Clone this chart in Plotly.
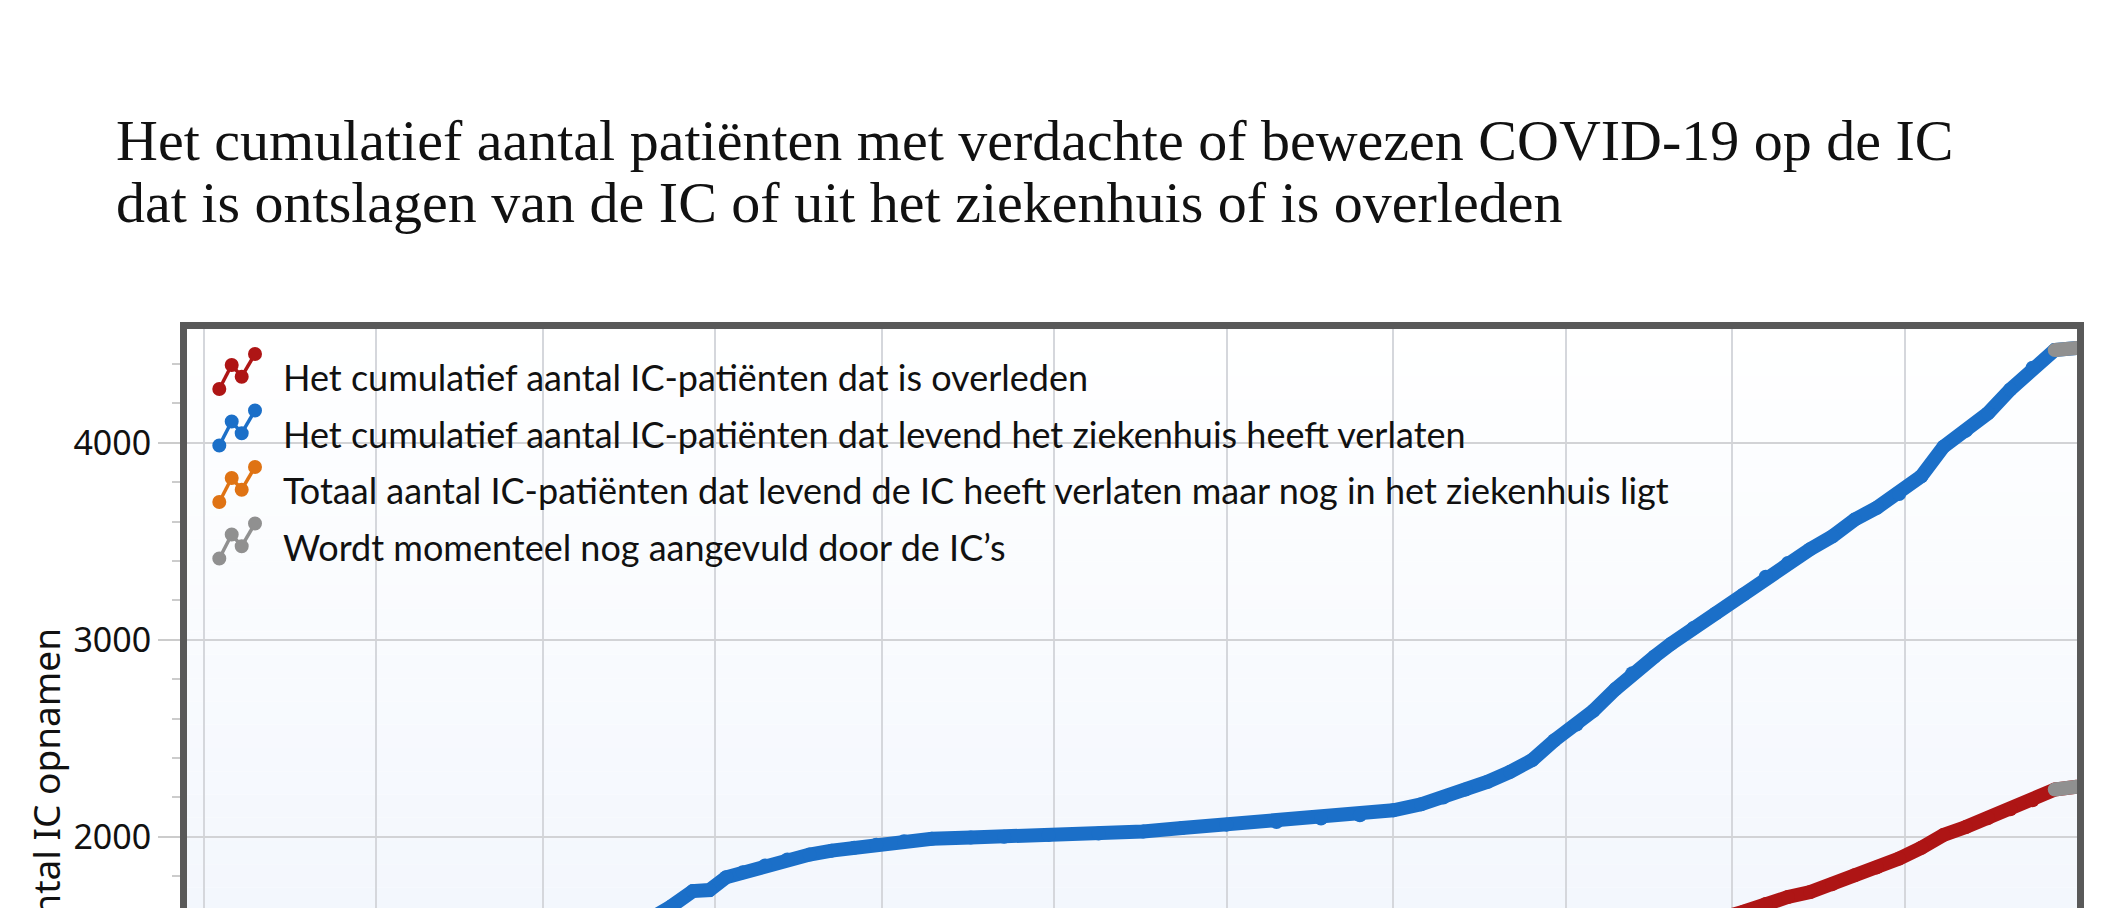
import plotly.graph_objects as go

# ---------------- data ----------------
dates = [
    "2020-02-27", "2020-03-05", "2020-03-12", "2020-03-19", "2020-03-26",
    "2020-04-02", "2020-04-09", "2020-04-16", "2020-04-23", "2020-04-30",
    "2020-05-07", "2020-05-14", "2020-05-21", "2020-05-24", "2020-05-28",
    "2020-05-31", "2020-06-03", "2020-06-06", "2020-06-10", "2020-06-14",
    "2020-06-18", "2020-06-22", "2020-06-26", "2020-06-30", "2020-07-05",
    "2020-07-10", "2020-07-17", "2020-07-23", "2020-07-31", "2020-08-09",
    "2020-08-17", "2020-08-24", "2020-09-01", "2020-09-10", "2020-09-18",
    "2020-09-25", "2020-10-01", "2020-10-06", "2020-10-10", "2020-10-14",
    "2020-10-18", "2020-10-22", "2020-10-26", "2020-10-30", "2020-11-03",
    "2020-11-06", "2020-11-10", "2020-11-13", "2020-11-17", "2020-11-20",
    "2020-11-24", "2020-11-28", "2020-12-03", "2020-12-07", "2020-12-11",
    "2020-12-15", "2020-12-19", "2020-12-23", "2020-12-27", "2020-12-31",
    "2021-01-04", "2021-01-08", "2021-01-12", "2021-01-16", "2021-01-20",
    "2021-01-24", "2021-01-28", "2021-02-01",
]

overleden = [
    0, 0, 3, 30, 120,
    290, 460, 600, 700, 770,
    820, 850, 870, 875, 880,
    882, 885, 887, 890, 892,
    894, 896, 898, 900, 902,
    903, 904, 905, 906, 907,
    908, 909, 910, 912, 914,
    916, 920, 930, 950, 975,
    1010, 1060, 1110, 1170, 1230,
    1290, 1350, 1400, 1450, 1490,
    1540, 1580, 1620, 1660, 1695,
    1720, 1760, 1805, 1845, 1890,
    1945, 2010, 2050, 2095, 2140,
    2186, 2240, 2254,
]

levend_ziekenhuis_verlaten = [
    0, 0, 2, 15, 80,
    230, 450, 700, 950, 1170,
    1350, 1480, 1590, 1645, 1725,
    1730, 1795, 1820, 1855, 1885,
    1910, 1930, 1945, 1960, 1978,
    1990, 1997, 2000, 2010, 2017,
    2027, 2045, 2062, 2075, 2093,
    2110, 2135, 2165, 2200, 2240,
    2280, 2330, 2390, 2490, 2570,
    2640, 2750, 2830, 2915, 2980,
    3060, 3134, 3230, 3320, 3390,
    3460, 3525, 3610, 3670, 3740,
    3830, 3980, 4060, 4150, 4270,
    4380, 4470, 4481,
]

nog_in_ziekenhuis = [
    0, 0, 1, 10, 60,
    150, 250, 300, 290, 250,
    200, 150, 110, 100, 90,
    85, 75, 65, 55, 45,
    40, 35, 30, 26, 22,
    20, 18, 15, 13, 12,
    10, 10, 11, 12, 14,
    18, 25, 35, 50, 70,
    95, 120, 150, 190, 230,
    260, 280, 290, 300, 295,
    285, 270, 255, 240, 225,
    215, 205, 210, 220, 230,
    240, 250, 245, 235, 225,
    215, 205, 200,
]

aantal_aanvulling = 2  # last points that are still being filled in

legend_labels = [
    "Het cumulatief aantal IC-patiënten dat is overleden",
    "Het cumulatief aantal IC-patiënten dat levend het ziekenhuis heeft verlaten",
    "Totaal aantal IC-patiënten dat levend de IC heeft verlaten maar nog in het ziekenhuis ligt",
    "Wordt momenteel nog aangevuld door de IC’s",
]

month_ticks = [
    "2020-03-01", "2020-04-01", "2020-05-01", "2020-06-01", "2020-07-01",
    "2020-08-01", "2020-09-01", "2020-10-01", "2020-11-01", "2020-12-01",
    "2021-01-01", "2021-02-01",
]
month_labels = [
    "mrt 2020", "apr", "mei", "jun", "jul", "aug", "sep", "okt", "nov", "dec",
    "jan 2021", "feb",
]

title_lines = [
    "Het cumulatief aantal patiënten met verdachte of bewezen COVID-19 op de IC",
    "dat is ontslagen van de IC of uit het ziekenhuis of is overleden",
]

# ---------------- style ----------------
RED = "#ae1515"
BLUE = "#1b6fc8"
ORANGE = "#df7314"
GRAY = "#909090"
colors = [RED, BLUE, ORANGE, GRAY]

OFF = 8
FIG_W = 2124 - 2 * OFF
FIG_H = 1380
M_L = 187 - OFF
M_R = FIG_W - (2077 - OFF)
M_T = 329 - OFF
PLOT_H = 931
M_B = FIG_H - M_T - PLOT_H
Y_RANGE = [-147, 4577]
X_RANGE = ["2020-02-27", "2021-02-01"]
LW = 14

fig = go.Figure()

for vals, color, name in [
    (nog_in_ziekenhuis, ORANGE, legend_labels[2]),
    (overleden, RED, legend_labels[0]),
    (levend_ziekenhuis_verlaten, BLUE, legend_labels[1]),
]:
    fig.add_trace(go.Scatter(
        x=dates, y=vals, mode="lines+markers", name=name,
        line=dict(color=color, width=LW),
        marker=dict(size=LW, color=color),
        showlegend=False, hoverinfo="x+y",
    ))

for vals in [nog_in_ziekenhuis, overleden, levend_ziekenhuis_verlaten]:
    fig.add_trace(go.Scatter(
        x=dates[-aantal_aanvulling:], y=vals[-aantal_aanvulling:],
        mode="lines+markers", name=legend_labels[3],
        line=dict(color=GRAY, width=LW),
        marker=dict(size=LW, color=GRAY),
        showlegend=False, hoverinfo="x+y",
    ))

shapes = []
# background gradient (white at top to light blue at bottom)
N = 40
top_c = (255, 255, 255)
bot_c = (236, 242, 252)
for k in range(N):
    t = (k + 0.5) / N  # 0 at bottom
    c = tuple(round(bot_c[j] + (top_c[j] - bot_c[j]) * t) for j in range(3))
    shapes.append(dict(
        type="rect", xref="x domain", yref="y domain",
        x0=0, x1=1, y0=k / N, y1=(k + 1) / N,
        fillcolor="rgb(%d,%d,%d)" % c, line=dict(width=0), layer="below",
    ))

# custom legend icons
ROW0 = 375 - 329
ROW_STEP = 56.5
dots = [(32.3, 14), (44.7, -10), (54.7, 1.7), (68, -21)]
R = 7
annotations = []
for i, color in enumerate(colors):
    base = ROW0 + ROW_STEP * i
    pts = [(dx, -(base + dy)) for dx, dy in dots]
    for (xa, ya), (xb, yb) in zip(pts[:-1], pts[1:]):
        shapes.append(dict(
            type="line", xref="paper", yref="paper",
            xsizemode="pixel", ysizemode="pixel", xanchor=0, yanchor=1,
            x0=xa, y0=ya, x1=xb, y1=yb,
            line=dict(color=color, width=3.5), layer="above",
        ))
    for xa, ya in pts:
        shapes.append(dict(
            type="circle", xref="paper", yref="paper",
            xsizemode="pixel", ysizemode="pixel", xanchor=0, yanchor=1,
            x0=xa - R, x1=xa + R, y0=ya - R, y1=ya + R,
            fillcolor=color, line=dict(width=0), layer="above",
        ))
    annotations.append(dict(
        text=legend_labels[i], xref="paper", yref="paper", x=0, y=1,
        xanchor="left", yanchor="middle", xshift=94, yshift=-(base + 2),
        showarrow=False, font=dict(family="Lato", size=36, color="#111111"),
    ))

# title lines
for j, (line, yshift) in enumerate(zip(title_lines, [189, 127])):
    annotations.append(dict(
        text=line, xref="paper", yref="paper", x=0, y=1,
        xanchor="left", yanchor="middle", xshift=-73, yshift=yshift,
        showarrow=False, font=dict(family="Liberation Serif", size=58, color="#111111"),
    ))

fig.update_layout(
    width=FIG_W, height=FIG_H,
    margin=dict(l=M_L, r=M_R, t=M_T, b=M_B, pad=0),
    paper_bgcolor="white", plot_bgcolor="white",
    shapes=shapes, annotations=annotations,
    showlegend=False,
    font=dict(family="Noto Sans", color="#111111"),
)

fig.update_xaxes(
    type="date", range=X_RANGE,
    tickvals=month_ticks, ticktext=month_labels,
    showgrid=True, gridcolor="#d5d7dc", gridwidth=2,
    showline=True, linecolor="#595959", linewidth=7, mirror=True,
    ticks="outside", ticklen=22, tickcolor="#cccccc", tickwidth=2,
    tickfont=dict(family="Noto Sans", size=34, color="#111111"),
    zeroline=False,
)
fig.update_yaxes(
    range=Y_RANGE, dtick=1000, tick0=0,
    showgrid=True, gridcolor="#d2d3d6", gridwidth=2,
    showline=True, linecolor="#595959", linewidth=7, mirror=True,
    ticks="outside", ticklen=22, tickcolor="#cccccc", tickwidth=2,
    minor=dict(dtick=200, ticks="outside", ticklen=8, tickcolor="#cccccc",
               tickwidth=2, showgrid=False),
    tickfont=dict(family="Noto Sans", size=34, color="#111111"),
    title=dict(text="Aantal IC opnamen", standoff=4,
               font=dict(family="Noto Sans", size=37, color="#111111")),
    zeroline=False,
)

fig.write_html("out.html")
